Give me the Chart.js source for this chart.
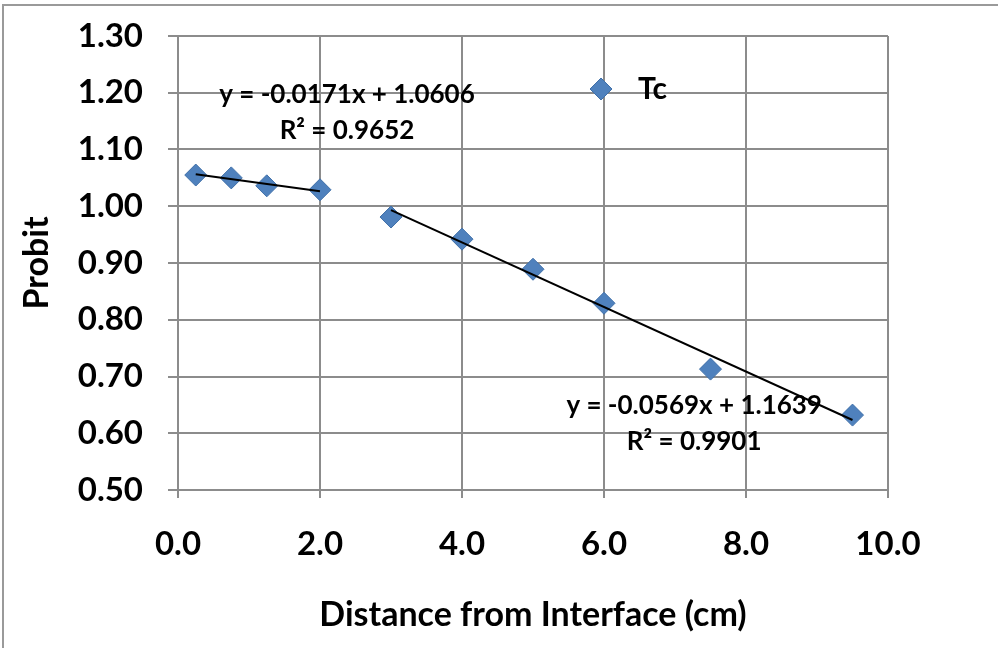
<!DOCTYPE html>
<html>
<head>
<meta charset="utf-8">
<title>Probit vs distance</title>
<script src="https://cdn.jsdelivr.net/npm/chart.js@4"></script>
<style>
  html, body { margin: 0; padding: 0; background: #fff; }
  #wrap { position: relative; width: 998px; height: 648px; overflow: hidden; }
</style>
</head>
<body>
<div id="wrap"><canvas id="probitChart" width="998" height="648"></canvas></div>
<script>
// Measured probit values
const distances = [0.25, 0.75, 1.25, 2.0, 3.0, 4.0, 5.0, 6.0, 7.5, 9.5];
const probits = [1.055, 1.050, 1.036, 1.029, 0.981, 0.942, 0.889, 0.829, 0.713, 0.632];

// Linear fits (slope, intercept, x range, r squared)
const fitSlopes = [-0.0171, -0.0569];
const fitIntercepts = [1.0606, 1.1639];
const fitRanges = [[0.25, 2.0], [3.0, 9.5]];
const fitR2 = ['0.9652', '0.9901'];

const xTicks = [0, 2, 4, 6, 8, 10];
const yTicks = [0.5, 0.6, 0.7, 0.8, 0.9, 1.0, 1.1, 1.2, 1.3];

const FONT = 'Lato, "Open Sans", sans-serif';
const GRID = '#8c8c8c';
const BLUE = '#4f81bd';

const points = distances.map((x, i) => ({ x: x, y: probits[i] }));

const fitLines = fitSlopes.map((m, i) => ({
    type: 'scatter',
    label: 'fit' + i,
    data: fitRanges[i].map(x => ({ x: x, y: m * x + fitIntercepts[i] })),
    showLine: true,
    borderColor: '#000',
    borderWidth: 2,
    pointRadius: 0,
    order: 0
}));

// equation labels, anchored in data coordinates
const eqAnchors = [{ x: 2.38, y: 1.197 }, { x: 7.27, y: 0.649 }];

function fmt(v) { return v.toFixed(4); }

const annotate = {
    id: 'annotate',
    beforeDraw(chart) {
        const c = chart.ctx;
        c.save();
        c.strokeStyle = '#9a9a9a';
        c.lineWidth = 2;
        c.strokeRect(3, 5, 1200, 1200);
        c.restore();
    },
    afterDatasetsDraw(chart) {
        const c = chart.ctx;
        const xs = chart.scales.x, ys = chart.scales.y;
        c.save();
        c.fillStyle = '#000';
        c.font = 'bold 26px ' + FONT;
        c.textAlign = 'center';
        c.textBaseline = 'middle';
        eqAnchors.forEach((a, i) => {
            const px = xs.getPixelForValue(a.x);
            const py = ys.getPixelForValue(a.y);
            const sign = fitIntercepts[i] >= 0 ? '+' : '-';
            c.fillText('y = ' + fmt(fitSlopes[i]) + 'x ' + sign + ' ' + fmt(Math.abs(fitIntercepts[i])), px, py);
            c.fillText('R\u00b2 = ' + fitR2[i], px, py + 36);
        });

        // legend entry inside the plot
        const ds = chart.data.datasets[0];
        const lx = chart.chartArea.left + 423;
        const ly = chart.chartArea.top + 53;
        c.fillStyle = ds.backgroundColor;
        c.strokeStyle = ds.borderColor;
        c.lineWidth = 1;
        c.beginPath();
        c.moveTo(lx, ly - 11);
        c.lineTo(lx + 11, ly);
        c.lineTo(lx, ly + 11);
        c.lineTo(lx - 11, ly);
        c.closePath();
        c.fill();
        c.stroke();
        c.fillStyle = '#000';
        c.font = 'bold 30px ' + FONT;
        c.textAlign = 'left';
        c.fillText(ds.label, lx + 37, ly);
        c.restore();
    }
};

new Chart(document.getElementById('probitChart'), {
    type: 'scatter',
    data: {
        datasets: [{
            label: 'Tc',
            data: points,
            pointStyle: 'rectRot',
            pointRadius: 11,
            pointHoverRadius: 11,
            backgroundColor: BLUE,
            borderColor: '#3f6fa8',
            borderWidth: 1,
            order: 1
        }].concat(fitLines)
    },
    options: {
        responsive: false,
        animation: false,
        layout: { padding: { left: 0, top: 36, right: 110, bottom: 0 } },
        plugins: {
            legend: { display: false },
            tooltip: { enabled: false }
        },
        scales: {
            x: {
                type: 'linear',
                min: 0,
                max: 10,
                afterBuildTicks(scale) { scale.ticks = xTicks.map(v => ({ value: v })); },
                afterFit(scale) {
                    scale.height = 158;
                    scale.paddingLeft = 0;
                    scale.paddingRight = 0;
                },
                grid: { color: GRID, lineWidth: 2, tickLength: 8, tickColor: GRID },
                border: { color: GRID, width: 2 },
                ticks: {
                    color: '#000',
                    padding: 27,
                    font: { family: FONT, size: 33, weight: 'bold' },
                    callback: v => v.toFixed(1)
                },
                title: {
                    display: true,
                    text: 'Distance from Interface (cm)',
                    color: '#000',
                    font: { family: FONT, size: 34, weight: 'bold' },
                    padding: { top: 0, bottom: 13 }
                }
            },
            y: {
                type: 'linear',
                min: 0.5,
                max: 1.3,
                afterBuildTicks(scale) { scale.ticks = yTicks.map(v => ({ value: v })); },
                afterFit(scale) {
                    scale.width = 178;
                    scale.paddingTop = 0;
                    scale.paddingBottom = 0;
                },
                grid: { color: GRID, lineWidth: 2, tickLength: 10, tickColor: GRID },
                border: { color: GRID, width: 2 },
                ticks: {
                    color: '#000',
                    padding: 25,
                    font: { family: FONT, size: 33, weight: 'bold' },
                    callback: v => v.toFixed(2)
                },
                title: {
                    display: true,
                    text: 'Probit',
                    color: '#000',
                    font: { family: FONT, size: 34, weight: 'bold' },
                    padding: { top: 17, bottom: 0 }
                }
            }
        }
    },
    plugins: [annotate]
});
</script>
</body>
</html>
